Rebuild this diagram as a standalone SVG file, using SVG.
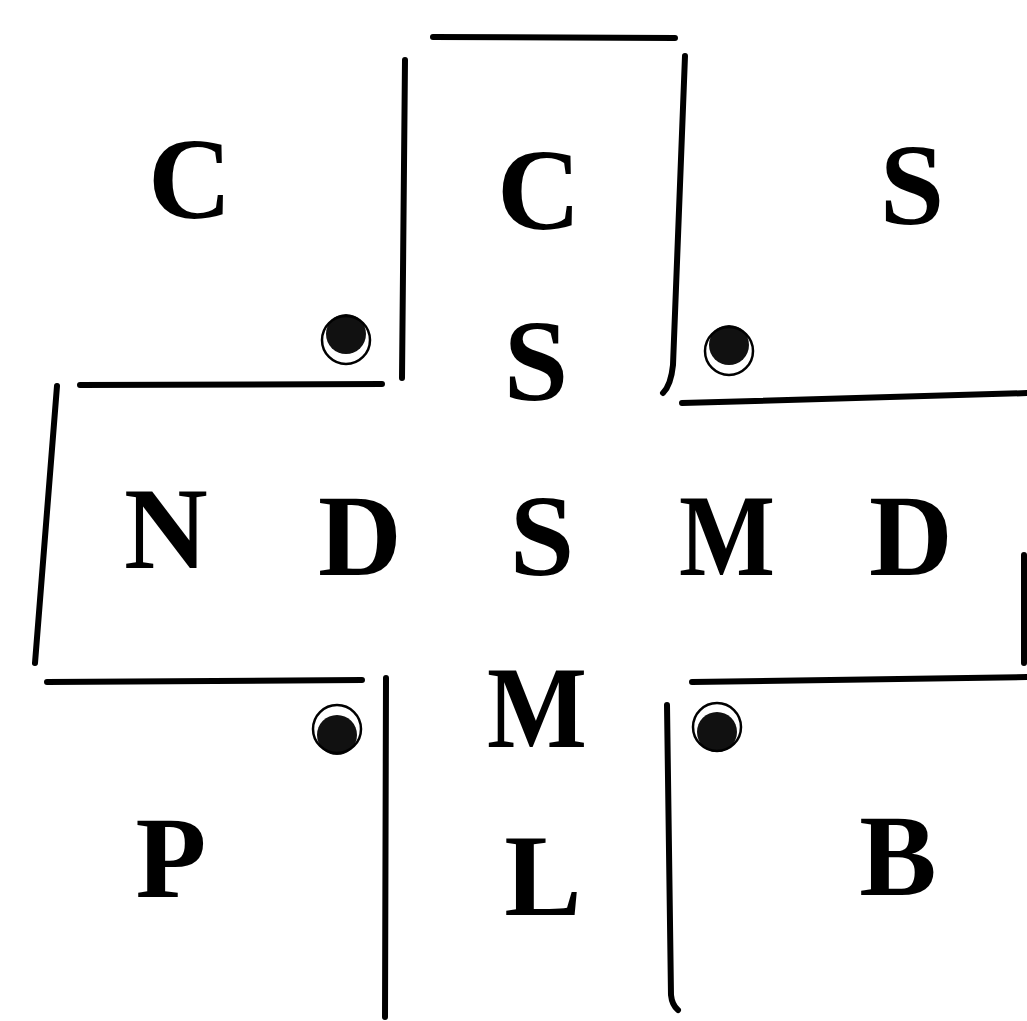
<svg xmlns="http://www.w3.org/2000/svg" width="1027" height="1021" viewBox="0 0 1027 1021">
<style>
.ln{fill:none;stroke:#000;stroke-width:6;stroke-linecap:round;stroke-linejoin:round}
.lt{font-family:"Liberation Serif","Times New Roman",serif;font-weight:bold;font-size:116px;fill:#000;text-anchor:middle}
.core{fill:#111}
.ring{fill:none;stroke:#000;stroke-width:2.5}
</style>
<rect width="1027" height="1021" fill="#fff"/>
<g id="lines">
<path class="ln" d="M433,37 L675,38"/>
<path class="ln" d="M405,60 L402,378"/>
<path class="ln" d="M685,56 L673,365 Q671,385 663,393"/>
<path class="ln" d="M80,385 L382,384"/>
<path class="ln" d="M57,386 L35,663"/>
<path class="ln" d="M682,403 L1030,393"/>
<path class="ln" d="M1024,555 L1024,663"/>
<path class="ln" d="M47,682 L362,680"/>
<path class="ln" d="M692,682 L1030,677"/>
<path class="ln" d="M386,678 L385,1017"/>
<path class="ln" d="M667,705 L671,995 Q672,1005 678,1010"/>
</g>
<g id="dots">
<circle class="core" cx="346" cy="334" r="20"/>
<circle class="ring" cx="346" cy="340" r="24"/>
<circle class="core" cx="729" cy="345" r="20"/>
<circle class="ring" cx="729" cy="351" r="24"/>
<circle class="core" cx="337" cy="735" r="20"/>
<circle class="ring" cx="337" cy="729" r="24"/>
<circle class="core" cx="717" cy="732" r="20"/>
<circle class="ring" cx="717" cy="727" r="24"/>
</g>
<g id="letters">
<text class="lt" x="190" y="218">C</text>
<text class="lt" x="539" y="229">C</text>
<text class="lt" x="912" y="224">S</text>
<text class="lt" x="536" y="400">S</text>
<text class="lt" x="166" y="568">N</text>
<text class="lt" x="360" y="575">D</text>
<text class="lt" x="542" y="575">S</text>
<text class="lt" x="727" y="575" textLength="96" lengthAdjust="spacingAndGlyphs">M</text>
<text class="lt" x="911" y="575">D</text>
<text class="lt" x="537" y="747" textLength="100" lengthAdjust="spacingAndGlyphs">M</text>
<text class="lt" x="543" y="915">L</text>
<text class="lt" x="171" y="897">P</text>
<text class="lt" x="898" y="895">B</text>
</g>
</svg>
